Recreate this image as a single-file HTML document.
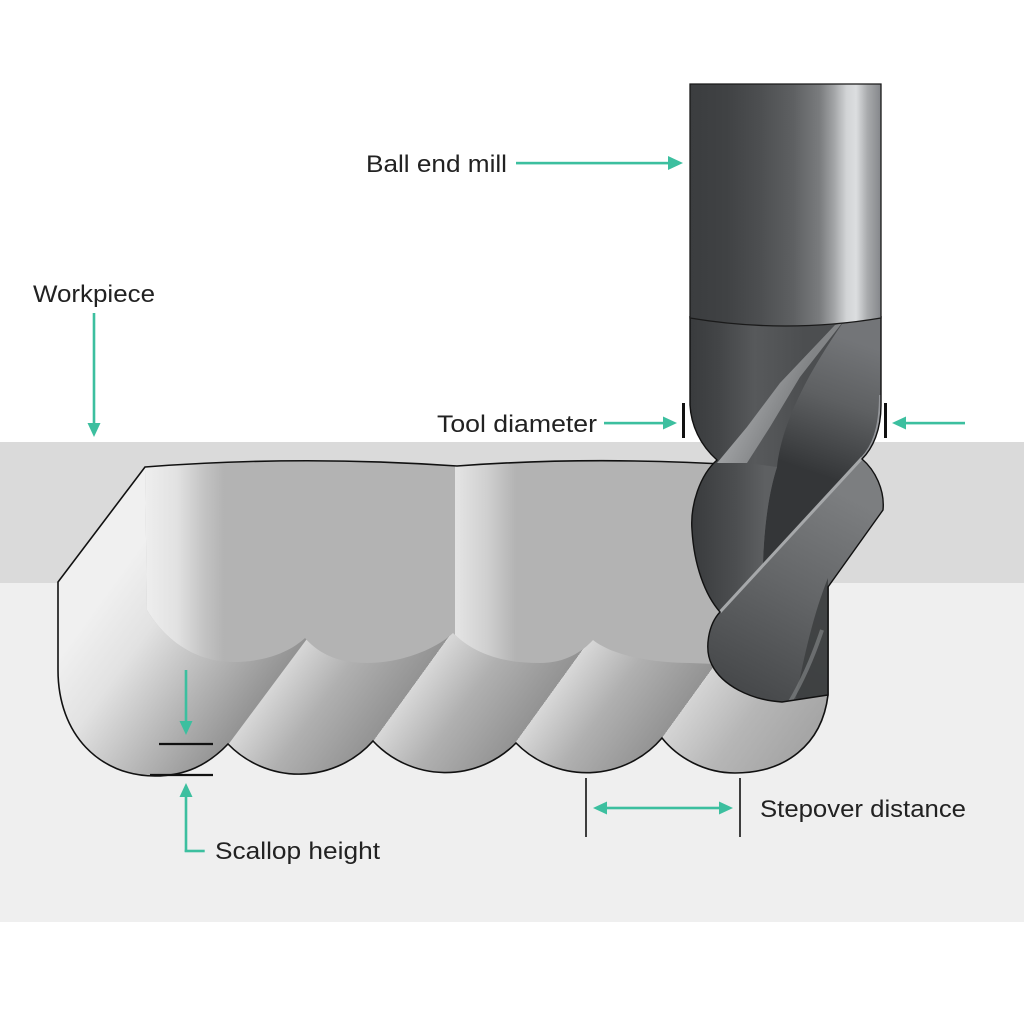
<!DOCTYPE html>
<html><head><meta charset="utf-8"><style>
html,body{margin:0;padding:0;background:#fff;}
svg{display:block;}
text{font-family:"Liberation Sans",sans-serif;fill:#222;font-size:24px;}
</style></head><body>
<svg width="1024" height="1024" viewBox="0 0 1024 1024" xmlns="http://www.w3.org/2000/svg">
<defs>
  <linearGradient id="strip" gradientUnits="userSpaceOnUse" x1="228" y1="744" x2="322" y2="812" spreadMethod="repeat">
    <stop offset="0" stop-color="#d8d8d8"/>
    <stop offset="0.45" stop-color="#b0b0b0"/>
    <stop offset="1" stop-color="#939393"/>
  </linearGradient>
  <linearGradient id="last" gradientUnits="userSpaceOnUse" x1="662" y1="738" x2="756" y2="806">
    <stop offset="0" stop-color="#d4d4d4"/>
    <stop offset="0.5" stop-color="#b6b6b6"/>
    <stop offset="1" stop-color="#a6a6a6"/>
  </linearGradient>
  <linearGradient id="first" gradientUnits="userSpaceOnUse" x1="100" y1="600" x2="253" y2="711">
    <stop offset="0" stop-color="#f0f0f0"/>
    <stop offset="0.3" stop-color="#e2e2e2"/>
    <stop offset="0.7" stop-color="#b4b4b4"/>
    <stop offset="1" stop-color="#939393"/>
  </linearGradient>
  <linearGradient id="col1" gradientUnits="userSpaceOnUse" x1="145" y1="0" x2="224" y2="0">
    <stop offset="0" stop-color="#eeeeee"/>
    <stop offset="0.4" stop-color="#e2e2e2"/>
    <stop offset="0.75" stop-color="#c3c3c3"/>
    <stop offset="1" stop-color="#b3b3b3"/>
  </linearGradient>
  <linearGradient id="col2" gradientUnits="userSpaceOnUse" x1="457" y1="0" x2="516" y2="0">
    <stop offset="0" stop-color="#e3e3e3"/>
    <stop offset="0.5" stop-color="#d0d0d0"/>
    <stop offset="1" stop-color="#b3b3b3"/>
  </linearGradient>
  <linearGradient id="shank" gradientUnits="userSpaceOnUse" x1="690" y1="0" x2="881" y2="0">
    <stop offset="0" stop-color="#3b3d3f"/>
    <stop offset="0.19" stop-color="#404244"/>
    <stop offset="0.37" stop-color="#4d4f51"/>
    <stop offset="0.54" stop-color="#5e6062"/>
    <stop offset="0.68" stop-color="#7a7c7e"/>
    <stop offset="0.75" stop-color="#a0a2a4"/>
    <stop offset="0.82" stop-color="#d2d4d6"/>
    <stop offset="0.87" stop-color="#dcdee0"/>
    <stop offset="0.93" stop-color="#a8aaac"/>
    <stop offset="1" stop-color="#84868a"/>
  </linearGradient>
  <linearGradient id="body" gradientUnits="userSpaceOnUse" x1="690" y1="0" x2="881" y2="0">
    <stop offset="0" stop-color="#393b3d"/>
    <stop offset="0.15" stop-color="#434547"/>
    <stop offset="0.34" stop-color="#57595b"/>
    <stop offset="0.45" stop-color="#535557"/>
    <stop offset="0.6" stop-color="#4c4e50"/>
    <stop offset="1" stop-color="#4a4c4e"/>
  </linearGradient>
  <linearGradient id="rface" gradientUnits="userSpaceOnUse" x1="850" y1="340" x2="805" y2="470">
    <stop offset="0" stop-color="#737578"/>
    <stop offset="0.45" stop-color="#5e6062"/>
    <stop offset="1" stop-color="#343638"/>
  </linearGradient>
  <linearGradient id="band" gradientUnits="userSpaceOnUse" x1="740" y1="400" x2="780" y2="420">
    <stop offset="0" stop-color="#a4a6a8"/>
    <stop offset="1" stop-color="#828486"/>
  </linearGradient>
  <linearGradient id="llobe" gradientUnits="userSpaceOnUse" x1="692" y1="0" x2="765" y2="0">
    <stop offset="0" stop-color="#393b3d"/>
    <stop offset="0.6" stop-color="#4c4e50"/>
    <stop offset="1" stop-color="#5e6062"/>
  </linearGradient>
  <linearGradient id="lowlobe" gradientUnits="userSpaceOnUse" x1="835" y1="490" x2="735" y2="685">
    <stop offset="0" stop-color="#7c7e80"/>
    <stop offset="0.5" stop-color="#636567"/>
    <stop offset="1" stop-color="#47494b"/>
  </linearGradient>
  <clipPath id="pc">
    <path d="M145,467 Q300,455 457,466 Q590,456 740,465 L828,465 L828,695 C822,745 785,773 735,773 C705,773 678,758 662,738 A99,99 0 0 1 516,743 A99,99 0 0 1 373,741 A99,99 0 0 1 228,744 C208,765 185,776 155,776 C100,776 58,735 58,670 L58,582 Z"/>
  </clipPath>
  <clipPath id="bc">
    <path d="M145,467 L147,610 C165,640 195,662 233,662 C265,662 290,652 305,638 C320,655 340,663 367,663 C400,663 435,650 453,633 C475,655 505,663 540,663 C565,663 582,652 593,640 C612,655 650,663 690,663 L740,665 L740,465 Q590,456 457,466 Q300,455 145,467 Z"/>
  </clipPath>
  <clipPath id="tc">
    <path d="M690,316 L690,405 C691,425 700,445 717,460 C700,475 690,505 692,530 C694,565 705,595 720,612 C708,625 704,650 712,665 C722,685 750,700 782,702 L828,695 L828,587 L883,510 C885,490 875,470 862,459 C873,448 881,430 881,405 L881,316 Z"/>
  </clipPath>
</defs>

<!-- background bands -->
<rect x="0" y="0" width="1024" height="1024" fill="#ffffff"/>
<rect x="0" y="442" width="1024" height="141" fill="#dadada"/>
<rect x="0" y="583" width="1024" height="339" fill="#efefef"/>

<!-- pocket -->
<g clip-path="url(#pc)">
  <rect x="40" y="440" width="800" height="350" fill="url(#strip)"/>
  <polygon points="763,600 900,600 900,800 617,800" fill="url(#last)"/>
  <polygon points="40,440 455,440 187,800 40,800" fill="url(#first)"/>
  <path d="M145,467 L147,610 C165,640 195,662 233,662 C265,662 290,652 305,638 C320,655 340,663 367,663 C400,663 435,650 453,633 C475,655 505,663 540,663 C565,663 582,652 593,640 C612,655 650,663 690,663 L740,665 L740,465 Q590,456 457,466 Q300,455 145,467 Z" fill="#b3b3b3"/>
  <g clip-path="url(#bc)">
    <rect x="145" y="455" width="80" height="220" fill="url(#col1)"/>
    <rect x="455" y="455" width="62" height="220" fill="url(#col2)"/>
  </g>
</g>
<path d="M145,467 Q300,455 457,466 Q590,456 740,465 L828,465 L828,695 C822,745 785,773 735,773 C705,773 678,758 662,738 A99,99 0 0 1 516,743 A99,99 0 0 1 373,741 A99,99 0 0 1 228,744 C208,765 185,776 155,776 C100,776 58,735 58,670 L58,582 Z" fill="none" stroke="#111" stroke-width="1.6"/>

<!-- scallop height marks -->
<line x1="159" y1="744" x2="213" y2="744" stroke="#111" stroke-width="2.2"/>
<line x1="150" y1="775" x2="213" y2="775" stroke="#111" stroke-width="2.2"/>

<!-- tool body -->
<g clip-path="url(#tc)">
  <rect x="685" y="310" width="205" height="400" fill="url(#body)"/>
  <path d="M842,324 L881,318 L881,405 C881,430 873,448 862,459 L763,564 C764,530 768,495 777,467 C781,430 800,385 842,324 Z" fill="url(#rface)"/>
  <path d="M881,395 C881,430 873,448 862,459" fill="none" stroke="#94969a" stroke-width="4"/>
  <path d="M717,460 C700,475 690,505 692,530 C694,565 705,595 720,612 L763,564 C764,530 768,495 777,467 L747,463 Z" fill="url(#llobe)"/>
  <polygon points="835,325 842,323 800,377 770,427 747,463 717,463 747,427 780,383" fill="url(#band)"/>
  <path d="M720,612 L862,458 C875,470 885,490 883,510 L828,587 L828,695 L782,702 C750,700 722,685 712,665 C704,650 708,625 720,612 Z" fill="url(#lowlobe)"/>
  <path d="M828,578 C815,610 805,650 795,703 L828,698 Z" fill="#3c3e40" opacity="0.85"/>
  <path d="M822,630 C812,660 800,685 790,702" fill="none" stroke="#7e8082" stroke-width="4" opacity="0.7"/>
  <line x1="862" y1="458" x2="720" y2="612" stroke="#a6a8aa" stroke-width="3"/>
</g>
<path d="M690,316 L690,405 C691,425 700,445 717,460 C700,475 690,505 692,530 C694,565 705,595 720,612 C708,625 704,650 712,665 C722,685 750,700 782,702 L828,695 L828,587 L883,510 C885,490 875,470 862,459 C873,448 881,430 881,405 L881,316" fill="none" stroke="#111" stroke-width="1.4"/>

<!-- shank -->
<path d="M690,84 L881,84 L881,318 Q785,334 690,318 Z" fill="url(#shank)" stroke="#1a1a1a" stroke-width="1.3"/>

<!-- annotations -->
<g fill="#3cbf9f" stroke="none">
  <rect x="516" y="161.8" width="156" height="2.6"/>
  <polygon points="683,163 668,156 668,170"/>
  <rect x="604" y="421.8" width="62" height="2.6"/>
  <polygon points="677,423 663,416.5 663,429.5"/>
  <rect x="904" y="421.8" width="61" height="2.6"/>
  <polygon points="892,423 906,416.5 906,429.5"/>
  <rect x="92.7" y="313" width="2.6" height="112"/>
  <polygon points="94,437 87.5,423 100.5,423"/>
  <rect x="184.7" y="670" width="2.6" height="53"/>
  <polygon points="186,735 179.5,721 192.5,721"/>
  <rect x="184.7" y="796" width="2.6" height="56"/>
  <rect x="184.7" y="849.7" width="20" height="2.6"/>
  <polygon points="186,783 179.5,797 192.5,797"/>
  <rect x="605" y="806.7" width="116" height="2.6"/>
  <polygon points="593,808 607,801.5 607,814.5"/>
  <polygon points="733,808 719,801.5 719,814.5"/>
</g>
<rect x="682" y="403" width="3" height="35" fill="#111"/>
<rect x="884" y="403" width="3" height="35" fill="#111"/>
<line x1="586" y1="778" x2="586" y2="837" stroke="#111" stroke-width="1.6"/>
<line x1="740" y1="778" x2="740" y2="837" stroke="#111" stroke-width="1.6"/>

<!-- labels -->
<text x="366" y="172" textLength="141" lengthAdjust="spacingAndGlyphs">Ball end mill</text>
<text x="437" y="432" textLength="160" lengthAdjust="spacingAndGlyphs">Tool diameter</text>
<text x="33" y="302" textLength="122" lengthAdjust="spacingAndGlyphs">Workpiece</text>
<text x="215" y="859" textLength="165" lengthAdjust="spacingAndGlyphs">Scallop height</text>
<text x="760" y="817" textLength="206" lengthAdjust="spacingAndGlyphs">Stepover distance</text>
</svg>
</body></html>
